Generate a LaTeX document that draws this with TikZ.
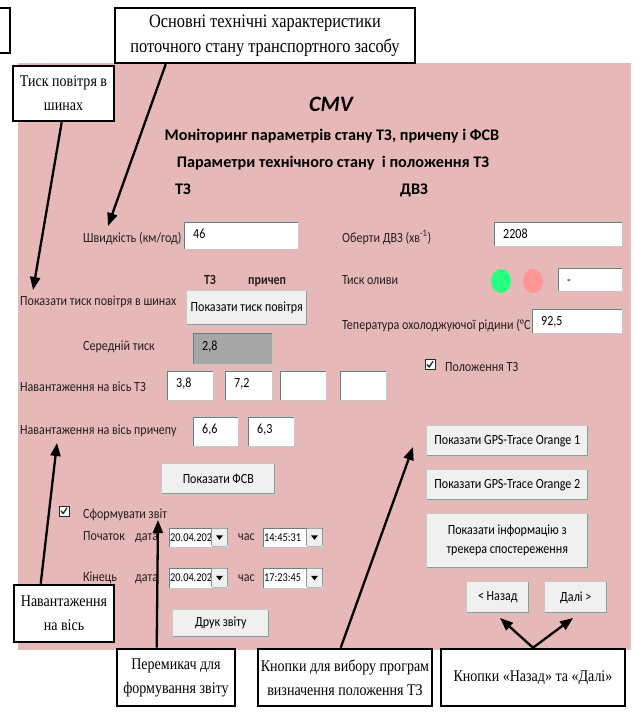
\documentclass[tikz,border=0pt]{standalone}
\usepackage{fontspec}
\setmainfont{Liberation Serif}[FakeStretch=0.86]
\newfontfamily\uifont{Carlito}[FakeStretch=0.86]
\newfontfamily\uihead{Carlito}
\usetikzlibrary{arrows.meta,calc,shapes.geometric}

\definecolor{panelpink}{RGB}{230,184,183}
\definecolor{uitext}{RGB}{35,31,32}
\definecolor{btnfill}{RGB}{240,240,240}
\definecolor{btnedge}{RGB}{200,200,200}
\definecolor{btnshadow}{RGB}{150,150,150}
\definecolor{fieldedge}{RGB}{200,200,200}
\definecolor{fielddark}{RGB}{120,120,120}
\definecolor{avggray}{RGB}{166,166,166}
\definecolor{oilgreen}{RGB}{40,255,128}
\definecolor{oilred}{RGB}{255,150,150}

% field: value box with a sunken edge
\newcommand\uifield[6]{%
  \node[field, minimum width=#4pt, minimum height=#5pt, anchor=north west] (#1) at (#2,#3) {};
  \node[val, anchor=base west] (#1-v) at ([xshift=10pt,yshift=-17pt]#1.north west) {#6};}
% combo: drop-down list with its arrow button
\newcommand\uicombo[6]{%
  \node[field, minimum width=#4pt, minimum height=#5pt, anchor=north west] (#1) at (#2,#3) {};
  \node[comboval, anchor=west] (#1-v) at ([xshift=2pt]#1.west) {#6};
  \node[dropbtn, minimum width=16pt, minimum height=#5pt-2pt, anchor=north east] (#1-b) at ([xshift=-1pt,yshift=-1pt]#1.north east) {};
  \fill[black] ([xshift=-3.5pt,yshift=2pt]#1-b.center) -- ++(7,0) -- ++(-3.5,4.5) -- cycle;}
% push button
\newcommand\uibutton[6]{%
  \node[btn, minimum width=#4pt, minimum height=#5pt, anchor=north west] (#1) at (#2,#3) {#6};}

\begin{document}
\begin{tikzpicture}[x=1pt,y=-1pt,
  callout/.style={draw=black, line width=2.6pt, fill=white, align=center, inner sep=0pt,
    font=\fontsize{16.3}{24}\selectfont},
  arr/.style={line width=2.3pt, -{Triangle[length=13pt,width=10pt]}},
  lbl/.style={anchor=base west, inner sep=0pt, text=uitext, font=\uifont\fontsize{14}{16}\selectfont},
  head/.style={inner sep=0pt, text=black, font=\uihead\bfseries\fontsize{16.2}{18}\selectfont},
  val/.style={inner sep=0pt, text=black, font=\uifont\fontsize{14}{16}\selectfont},
  comboval/.style={inner sep=0pt, text=black, font=\uifont\fontsize{12}{13}\selectfont},
  field/.style={fill=white, draw=fieldedge, line width=0.8pt, inner sep=0pt,
    path picture={\draw[fielddark, line width=2.6pt]
      (path picture bounding box.south west) -- (path picture bounding box.north west)
      -- (path picture bounding box.north east);}},
  dropbtn/.style={fill=btnfill, draw=btnshadow, line width=0.6pt, inner sep=0pt, rounded corners=1pt},
  btn/.style={fill=btnfill, draw=btnedge, line width=0.6pt, inner sep=0pt, align=center,
    text=black, font=\uifont\fontsize{14}{19}\selectfont,
    path picture={\draw[btnshadow, line width=3pt]
      (path picture bounding box.north east) -- (path picture bounding box.south east)
      -- (path picture bounding box.south west);}},
  chk/.style={draw=black!85, fill=white, minimum size=10pt, inner sep=0pt, line width=0.7pt,
    path picture={\draw[line width=1.3pt, line cap=round, line join=round]
      ($(path picture bounding box.center)+(-2.8,0)$) -- ++(2,2.5) -- ++(3.6,-5.5);}},
]
\useasboundingbox (0,0) rectangle (632,727);
\fill[white] (0,0) rectangle (632,727);

% form background
\node[fill=panelpink, minimum width=613pt, minimum height=587pt, anchor=north west, inner sep=0pt]
  (panel) at (18,63) {};

% edge of a box cut off at the left border
\draw[line width=2.6pt] (0,8) -- (10,8) -- (10,53) -- (0,53);

% headings
\node[head, anchor=base, font=\uihead\bfseries\itshape\fontsize{22}{24}\selectfont] (cmv) at (331,112) {CMV};
\node[head, anchor=base] (title1) at (332,141) {Моніторинг параметрів стану ТЗ, причепу і ФСВ};
\node[head, anchor=base] (title2) at (333,168) {Параметри технічного стану\ \ і положення ТЗ};
\node[head, anchor=base west] (hdts) at (175,195) {ТЗ};
\node[head, anchor=base west] (hdeng) at (400,195) {ДВЗ};

% left column
\node[lbl] (lspeed) at (83,242) {Швидкість (км/год)};
\uifield{speed}{183}{221}{115}{28}{46}
\node[lbl, font=\uifont\bfseries\fontsize{14}{16}\selectfont] (colts) at (204,284) {ТЗ};
\node[lbl, font=\uifont\bfseries\fontsize{14}{16}\selectfont] (coltr) at (248,284) {причеп};
\node[lbl] (lpress) at (20,305) {Показати тиск повітря в шинах};
\uibutton{bpress}{186}{290}{121}{35}{Показати тиск повітря}
\node[lbl] (lavg) at (83,350) {Середній тиск};
\node[field, fill=avggray, minimum width=80pt, minimum height=32pt, anchor=north west] (avg) at (192,332) {};
\node[val, anchor=base west] (avg-v) at ([xshift=10pt,yshift=-18pt]avg.north west) {2,8};
\node[lbl] (laxts) at (20,391) {Навантаження на вісь ТЗ};
\uifield{ax1}{166}{370}{47}{30}{3,8}
\uifield{ax2}{224}{370}{48}{30}{7,2}
\uifield{ax3}{279}{370}{47}{30}{}
\uifield{ax4}{339}{370}{47}{30}{}
\node[lbl] (laxtr) at (20,434) {Навантаження на вісь причепу};
\uifield{tr1}{192}{416}{46}{30}{6,6}
\uifield{tr2}{247}{416}{47}{30}{6,3}
\uibutton{bfsv}{161}{463}{114}{31}{Показати ФСВ}

% report settings
\node[chk] (chkrep) at (64,511) {};
\node[lbl] (lrep) at (83,518) {Сформувати звіт};
\node[lbl] (lstart) at (83,540) {Початок};
\node[lbl] (ldate1) at (135,540) {дата};
\uicombo{date1}{168}{527}{60}{20}{20.04.2020}
\node[lbl] (ltime1) at (238,540) {час};
\uicombo{time1}{262}{527}{61}{20}{14:45:31}
\node[lbl] (lend) at (83,581) {Кінець};
\node[lbl] (ldate2) at (135,581) {дата};
\uicombo{date2}{168}{567}{60}{21}{20.04.2020}
\node[lbl] (ltime2) at (238,581) {час};
\uicombo{time2}{262}{567}{61}{21}{17:23:45}
\uibutton{bprint}{172}{609}{97}{28}{Друк звіту}

% right column
\node[lbl] (lrpm) at (342,242) {Оберти ДВЗ (хв\textsuperscript{-1})};
\uifield{rpm}{493}{221}{129}{25}{2208}
\node[lbl] (loil) at (342,284) {Тиск оливи};
\node[ellipse, fill=oilgreen, minimum width=20pt, minimum height=24pt, inner sep=0pt] (ledok) at (501,281) {};
\node[ellipse, fill=oilred, minimum width=20pt, minimum height=24pt, inner sep=0pt] (ledbad) at (533,281) {};
\uifield{oil}{557}{267}{65}{24}{-}
\node[lbl] (ltemp) at (342,329) {Теператyра охолоджуючої рідини (°C)};
\uifield{temp}{531}{308}{91}{25}{92,5}
\node[chk] (chkpos) at (430,364.5) {};
\node[lbl] (lpos) at (445,371) {Положення ТЗ};
\uibutton{bgps1}{426}{425}{162}{31}{Показати GPS-Trace Orange 1}
\uibutton{bgps2}{426}{469}{162}{31}{Показати GPS-Trace Orange 2}
\uibutton{btrack}{426}{513}{162}{55}{Показати інформацію з\\трекера спостереження}
\uibutton{bback}{466}{581}{63}{32}{< Назад}
\uibutton{bnext}{544}{581}{63}{32}{Далі >}

% callouts
\node[callout, minimum width=300pt, minimum height=55pt, font=\fontsize{19}{25}\selectfont] (cmain) at (265,35.5)
  {Основні технічні характеристики\\поточного стану транспортного засобу};
\node[callout, minimum width=101pt, minimum height=55pt] (ctyre) at (63.5,93.5)
  {Тиск повітря в\\шинах};
\node[callout, minimum width=100pt, minimum height=57pt] (caxle) at (64,613.5)
  {Навантаження\\на вісь};
\node[callout, minimum width=118pt, minimum height=57pt] (cswitch) at (176,677.5)
  {Перемикач для\\формування звіту};
\node[callout, minimum width=174pt, minimum height=57pt] (cgps) at (345,677.5)
  {Кнопки для вибору програм\\визначення положення ТЗ};
\node[callout, minimum width=184pt, minimum height=57pt] (cnav) at (533,677.5)
  {Кнопки «Назад» та «Далі»};

% arrow ends
\coordinate (tspeed) at (108,226);
\coordinate (ttyre) at (33,290);
\coordinate (taxle) at (57,443);
\coordinate (tswitch) at (158,520);
\coordinate (tgps) at (413,447);
\coordinate (tback) at (500,618);
\coordinate (tnext) at (573,618);

\draw[arr] ([xshift=52pt]cmain.south west) -- (tspeed);
\draw[arr] ([xshift=50pt]ctyre.south west) -- (ttyre);
\draw[arr] ([xshift=28pt]caxle.north west) -- (taxle);
\draw[arr] ([xshift=41pt]cswitch.north west) -- (tswitch);
\draw[arr] ([xshift=84pt]cgps.north west) -- (tgps);
\draw[arr] (cnav.north) -- (tback);
\draw[arr] (cnav.north) -- (tnext);
\end{tikzpicture}
\end{document}
